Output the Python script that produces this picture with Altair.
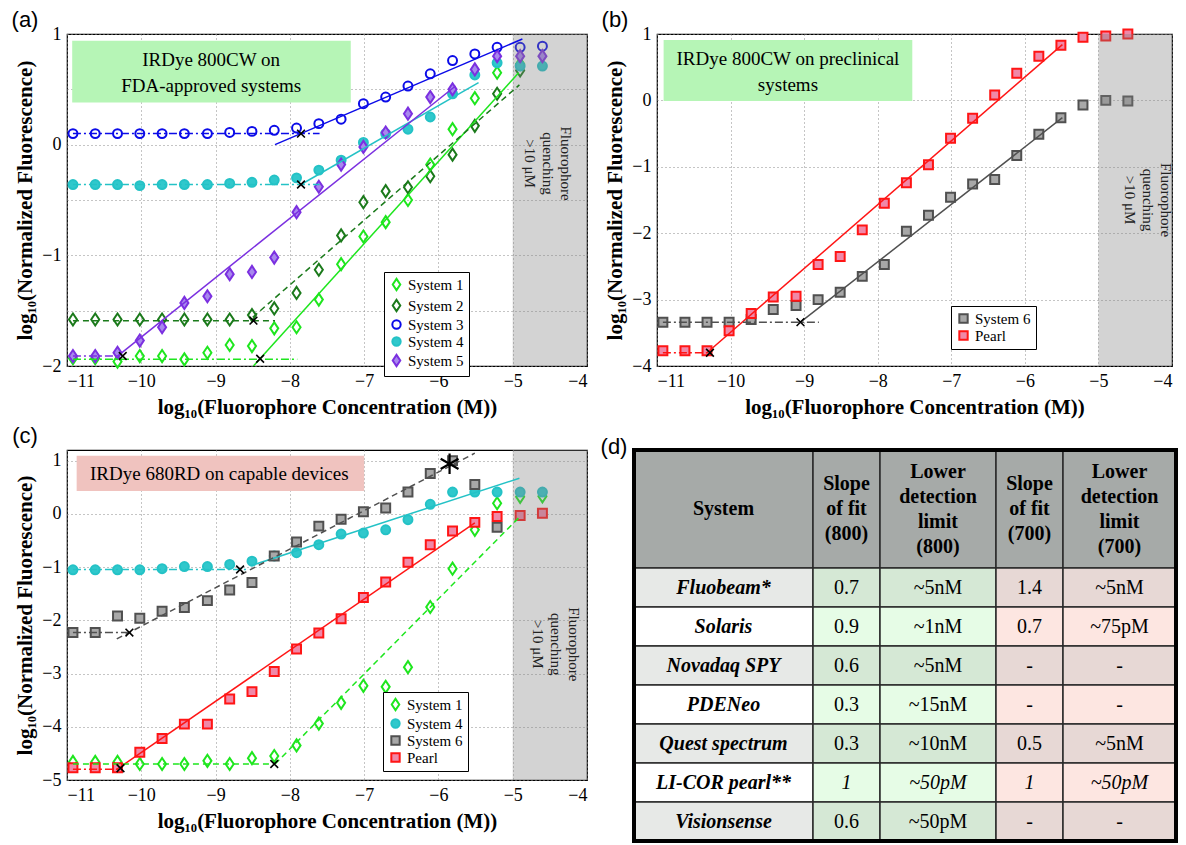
import altair as alt
import pandas as pd

SERIF = "'Liberation Serif', 'Times New Roman', Times, 'Nimbus Roman', 'DejaVu Serif', serif"
SANS = "'Liberation Sans', Arial, Helvetica, sans-serif"

# log10 concentrations of the 2-fold dilution series (shared by all panels)
conc = [-10.92, -10.62, -10.32, -10.02, -9.72, -9.42, -9.11, -8.81, -8.51, -8.21,
        -7.91, -7.61, -7.31, -7.01, -6.71, -6.41, -6.11, -5.81, -5.51, -5.21, -4.90, -4.60]

# ---------------- panel (a): IRDye 800CW on FDA-approved systems
a_order = ["System 1", "System 2", "System 3", "System 4", "System 5"]
a_sys1 = [-1.93, -1.93, -1.96, -1.91, -1.91, -1.94, -1.88, -1.81, -1.82, -1.66, -1.65,
          -1.40, -1.08, -0.83, -0.70, -0.50, -0.18, 0.14, 0.42, 0.65, 0.73, None]
a_sys2 = [-1.58, -1.58, -1.58, -1.58, -1.58, -1.58, -1.58, -1.58, -1.54, -1.48, -1.34,
          -1.13, -0.82, -0.52, -0.42, -0.385, -0.285, -0.09, 0.17, 0.46, 0.67, None]
a_sys3 = [0.10, 0.10, 0.10, 0.10, 0.10, 0.10, 0.10, 0.11, 0.12, 0.13, 0.15,
          0.19, 0.23, 0.37, 0.43, 0.53, 0.64, 0.76, 0.82, 0.88, 0.88, 0.89]
a_sys4 = [-0.36, -0.36, -0.36, -0.37, -0.36, -0.36, -0.36, -0.35, -0.34, -0.32, -0.30,
          -0.23, -0.14, 0.02, 0.10, 0.14, 0.25, 0.46, 0.63, 0.74, 0.71, 0.71]
a_sys5 = [-1.91, -1.91, -1.88, -1.77, -1.65, -1.43, -1.37, -1.17, -1.15, -1.02, -0.61,
          -0.38, -0.18, -0.02, 0.11, 0.28, 0.43, 0.50, 0.68, 0.80, 0.80, 0.80]
a_fits = [
    ("System 3", -10.92, 0.10, -7.60, 0.10, "dashdot"),
    ("System 3", -8.20, 0.00, -4.87, 0.955, "solid"),
    ("System 4", -10.92, -0.36, -7.60, -0.36, "dashdot"),
    ("System 4", -7.85, -0.36, -5.46, 0.56, "solid"),
    ("System 5", -10.92, -1.91, -10.25, -1.91, "dashdot"),
    ("System 5", -10.32, -1.91, -5.77, 0.53, "solid"),
    ("System 2", -10.92, -1.59, -8.20, -1.59, "dashed"),
    ("System 2", -8.50, -1.56, -4.91, 0.54, "dashed"),
    ("System 1", -10.92, -1.94, -7.90, -1.94, "dashdot"),
    ("System 1", -8.49, -2.00, -4.92, 0.65, "solid"),
]
a_knee_x = [-7.85, -7.85, -10.25, -8.49, -8.40]
a_knee_y = [0.10, -0.36, -1.91, -1.59, -1.935]

# ---------------- panel (b): IRDye 800CW on preclinical systems
b_order = ["System 6", "Pearl"]
b_sys6 = [-3.34, -3.34, -3.34, -3.34, -3.30, -3.15, -3.09, -3.00, -2.89, -2.65, -2.47,
          -1.97, -1.73, -1.46, -1.26, -1.19, -0.83, -0.51, -0.26, -0.07, 0.00, -0.01]
b_pearl = [-3.77, -3.77, -3.77, -3.47, -3.21, -2.96, -2.95, -2.47, -2.35, -1.95, -1.55,
           -1.24, -0.97, -0.57, -0.27, 0.08, 0.41, 0.665, 0.83, 0.95, 0.97, 1.00]
b_fits = [
    ("Pearl", -10.92, -3.80, -10.28, -3.80, "dashdot"),
    ("Pearl", -10.32, -3.80, -5.49, 0.84, "solid"),
    ("System 6", -10.92, -3.34, -8.80, -3.34, "dashdot"),
    ("System 6", -9.05, -3.34, -5.49, -0.26, "solid"),
]
b_knee_x = [-10.28, -9.05]
b_knee_y = [-3.80, -3.34]

# ---------------- panel (c): IRDye 680RD on capable devices
c_order = ["System 1", "System 4", "System 6", "Pearl"]
c_sys1 = [-4.66, -4.66, -4.66, -4.70, -4.70, -4.70, -4.64, -4.70, -4.59, -4.55, -4.35,
          -3.94, -3.55, -3.23, -3.25, -2.88, -1.75, -1.03, -0.30, 0.20, 0.32, 0.33]
c_sys4 = [-1.05, -1.05, -1.05, -1.05, -1.03, -0.99, -0.99, -0.95, -0.89, -0.79, -0.73,
          -0.58, -0.38, -0.36, -0.30, -0.11, 0.18, 0.41, 0.41, 0.41, 0.41, 0.41]
c_sys6 = [-2.23, -2.23, -1.92, -1.96, -1.83, -1.76, -1.63, -1.43, -1.29, -0.79, -0.53,
          -0.23, -0.10, 0.04, 0.11, 0.41, 0.76, 1.00, 0.55, -0.25, None, None]
c_pearl = [-4.77, -4.77, -4.77, -4.48, -4.22, -3.95, -3.95, -3.48, -3.34, -2.96, -2.54,
           -2.24, -1.97, -1.57, -1.28, -0.91, -0.58, -0.32, -0.16, -0.05, -0.03, 0.01]
c_fits = [
    ("System 4", -10.92, -1.045, -8.58, -1.045, "dashdot"),
    ("System 4", -8.52, -0.97, -4.91, 0.67, "solid"),
    ("System 6", -10.92, -2.23, -10.16, -2.23, "dashdot"),
    ("System 6", -10.33, -2.35, -5.51, 1.14, "dashed"),
    ("Pearl", -10.92, -4.80, -10.28, -4.80, "dashdot"),
    ("Pearl", -10.33, -4.80, -5.51, -0.17, "solid"),
    ("System 1", -10.92, -4.70, -8.20, -4.70, "dashed"),
    ("System 1", -8.20, -4.70, -4.91, -0.06, "dashed"),
]
c_knee_x = [-8.67, -10.16, -10.28, -8.21]
c_knee_y = [-1.045, -2.23, -4.78, -4.70]
c_star_x = [-5.85]
c_star_y = [0.94]

# ---------------- panel (d): table
tbl_head = ["System", "Slope\nof fit\n(800)", "Lower\ndetection\nlimit\n(800)",
            "Slope\nof fit\n(700)", "Lower\ndetection\nlimit\n(700)"]
tbl_system = ["Fluobeam*", "Solaris", "Novadaq SPY", "PDENeo", "Quest spectrum",
              "LI-COR pearl**", "Visionsense"]
tbl_slope800 = ["0.7", "0.9", "0.6", "0.3", "0.3", "1", "0.6"]
tbl_ldl800 = ["~5nM", "~1nM", "~5nM", "~15nM", "~10nM", "~50pM", "~50pM"]
tbl_slope700 = ["1.4", "0.7", "-", "-", "0.5", "1", "-"]
tbl_ldl700 = ["~5nM", "~75pM", "-", "-", "~5nM", "~50pM", "-"]
tbl_italic_row = "LI-COR pearl**"

# ---------------- styles
COLOR = {"System 1": "#1ee61e", "System 2": "#1b7a1b", "System 3": "#0b0be8",
         "System 4": "#24c2c6", "System 5": "#7b30e0", "System 6": "#505050", "Pearl": "#ff1515"}
FILL = {"System 1": "transparent", "System 2": "transparent", "System 3": "transparent",
        "System 4": "#30c8cc", "System 5": "#a888ee", "System 6": "#a8a8a8", "Pearl": "#f088a8"}
DIAMOND = "M0,-1.35L0.9,0L0,1.35L-0.9,0Z"
SHAPE = {"System 1": DIAMOND, "System 2": DIAMOND, "System 3": "circle", "System 4": "circle",
         "System 5": DIAMOND, "System 6": "square", "Pearl": "square"}
XMARK = "M-1,-1L1,1M-1,1L1,-1"
STAR = "M0,-1L0,1M-0.87,-0.5L0.87,0.5M-0.87,0.5L0.87,-0.5"
DASH = {"solid": None, "dashed": [6, 4], "dashdot": [8, 3, 2, 3]}
BOX_LH = 26
BAND_LH = 18


def panel(tag, order, series, fits, knee_x, knee_y, ydom, ygrid, W, H,
          box, boxfill, boxtext, boxxy, bandxy, legxy, star=None):
    rows = []
    for name, vals in zip(order, series):
        for x, y in zip(conc, vals):
            if y is not None:
                rows.append({"x": x, "y": y, "s": name})
    pts = pd.DataFrame(rows)
    fdf = pd.DataFrame(fits, columns=["s", "x", "y", "x2", "y2", "style"])
    fdf["c"] = fdf["s"].map(COLOR)
    kdf = pd.DataFrame({"x": knee_x, "y": knee_y})

    xsc = alt.Scale(domain=[-11, -4], nice=False, zero=False)
    ysc = alt.Scale(domain=ydom, nice=False, zero=False)
    xax = alt.Axis(values=list(range(-11, -3)), format=".0f", labelPadding=6,
                   title="log₁₀(Fluorophore Concentration (M))")
    yax = alt.Axis(values=ygrid, format=".0f",
                   labelExpr="datum.value == floor(datum.value) ? datum.label : ''",
                   title="log₁₀(Normalized Fluorescence)")

    def X(f):
        return alt.X(f, type="quantitative", scale=xsc, axis=xax)

    def Y(f):
        return alt.Y(f, type="quantitative", scale=ysc, axis=yax)

    layers = []
    bdf = pd.DataFrame([{"x": box[0], "x2": box[1], "y": box[2], "y2": box[3]}])
    layers.append(alt.Chart(bdf).mark_rect(color=boxfill).encode(
        x=X("x"), x2="x2", y=Y("y"), y2="y2"))
    nlines = boxtext.count("\n") + 1
    tdf = pd.DataFrame([{"x": boxxy[0], "y": boxxy[1], "t": boxtext}])
    layers.append(alt.Chart(tdf).mark_text(font=SERIF, fontSize=19, lineBreak="\n",
                                           lineHeight=BOX_LH, color="black",
                                           dy=-(nlines - 1) * BOX_LH / 2).encode(
        x=X("x"), y=Y("y"), text="t:N"))

    leg = alt.Legend(title=None, orient="none", legendX=legxy[0], legendY=legxy[1],
                     strokeColor="black", fillColor="white", padding=5,
                     labelFont=SERIF, labelFontSize=15, labelColor="black",
                     symbolSize=70, symbolStrokeWidth=2, rowPadding=0, labelOffset=4)
    layers.append(alt.Chart(pts).mark_point(size=80, strokeWidth=2, opacity=1).encode(
        x=X("x"), y=Y("y"),
        shape=alt.Shape("s:N", scale=alt.Scale(domain=order, range=[SHAPE[s] for s in order]), legend=leg),
        stroke=alt.Stroke("s:N", scale=alt.Scale(domain=order, range=[COLOR[s] for s in order]), legend=leg),
        fill=alt.Fill("s:N", scale=alt.Scale(domain=order, range=[FILL[s] for s in order]), legend=leg),
    ))

    band = pd.DataFrame([{"x": -5, "x2": -4, "y": ydom[0], "y2": ydom[1]}])
    layers.append(alt.Chart(band).mark_rect(color="#808080", opacity=0.35).encode(
        x=X("x"), x2="x2", y=Y("y"), y2="y2"))

    for style, dash in DASH.items():
        sub = fdf[fdf["style"] == style]
        if len(sub) == 0:
            continue
        if dash is None:
            mk = alt.Chart(sub).mark_rule(strokeWidth=1.5)
        else:
            mk = alt.Chart(sub).mark_rule(strokeWidth=1.5, strokeDash=dash)
        layers.append(mk.encode(x=X("x"), x2="x2", y=Y("y"), y2="y2",
                                color=alt.Color("c:N", scale=None)))

    layers.append(alt.Chart(kdf).mark_point(shape=XMARK, size=60, color="black",
                                            strokeWidth=1.6, opacity=1, filled=False).encode(
        x=X("x"), y=Y("y")))
    if star is not None:
        sdf = pd.DataFrame({"x": star[0], "y": star[1]})
        layers.append(alt.Chart(sdf).mark_point(shape=STAR, size=420, color="black",
                                                strokeWidth=2.2, opacity=1, filled=False).encode(
            x=X("x"), y=Y("y")))

    # rotated note: with angle 90, dy (rotated frame) moves the 3-line block sideways so the
    # middle line sits on the anchor
    qdf = pd.DataFrame([{"x": bandxy[0], "y": bandxy[1], "t": "Fluorophore\nquenching\n>10 μM"}])
    layers.append(alt.Chart(qdf).mark_text(font=SERIF, fontSize=15, lineBreak="\n", lineHeight=BAND_LH,
                                           angle=90, color="#222", dy=-BAND_LH).encode(
        x=X("x"), y=Y("y"), text="t:N"))

    gdf = pd.DataFrame([{"t": tag}])
    layers.append(alt.Chart(gdf).mark_text(font=SANS, fontSize=22, color="black").encode(
        x=alt.value(-42), y=alt.value(-14), text="t:N"))

    return alt.layer(*layers).properties(width=W, height=H)


pa = panel("(a)", a_order, [a_sys1, a_sys2, a_sys3, a_sys4, a_sys5], a_fits, a_knee_x, a_knee_y,
           [-2, 1], [-2, -1.5, -1, -0.5, 0, 0.5, 1], 520, 332,
           (-10.93, -7.18, 0.38, 0.94), "#b6f5b6", "IRDye 800CW on\nFDA-approved systems",
           (-9.06, 0.65), (-4.52, -0.17), (317, 238))
pb = panel("(b)", b_order, [b_sys6, b_pearl], b_fits, b_knee_x, b_knee_y,
           [-4, 1], [-4, -3, -2, -1, 0, 1], 515, 332,
           (-10.91, -7.53, -0.01, 0.91), "#b6f5b6", "IRDye 800CW on preclinical\nsystems",
           (-9.22, 0.425), (-4.33, -1.5), (294, 272))
pc = panel("(c)", c_order, [c_sys1, c_sys4, c_sys6, c_pearl], c_fits, c_knee_x, c_knee_y,
           [-5, 1.2], [-5, -4, -3, -2, -1, 0, 1], 520, 330,
           (-10.87, -7.0, 0.43, 1.09), "#f0c3bf", "IRDye 680RD on capable devices",
           (-8.95, 0.75), (-4.42, -2.45), (316, 242), star=(c_star_x, c_star_y))

# ---------------- table
col_w = [179, 67, 116, 67, 113]
head_h = 118
row_h = 39
TBL_LH = 25
edges = [0]
for w in col_w:
    edges.append(edges[-1] + w)
tw = edges[-1]
th = head_h + row_h * len(tbl_system)

HEAD_FILL = "#a6aaa8"
ODD = ["#e7e9e7", "#d5e8d5", "#d5e8d5", "#e7d8d5", "#e7d8d5"]
EVEN = ["#ffffff", "#e6fce6", "#e6fce6", "#fde6e1", "#fde6e1"]

cells = []
for c in range(5):
    cells.append({"x0": edges[c], "x1": edges[c + 1], "y0": 0, "y1": head_h,
                  "fill": HEAD_FILL, "t": tbl_head[c], "kind": "head"})
for r, name in enumerate(tbl_system):
    vals = [name, tbl_slope800[r], tbl_ldl800[r], tbl_slope700[r], tbl_ldl700[r]]
    y0 = head_h + r * row_h
    for c in range(5):
        if c == 0:
            kind = "name"
        elif name == tbl_italic_row:
            kind = "ital"
        else:
            kind = "val"
        cells.append({"x0": edges[c], "x1": edges[c + 1], "y0": y0, "y1": y0 + row_h,
                      "fill": (ODD if r % 2 == 0 else EVEN)[c], "t": vals[c], "kind": kind})
cdf = pd.DataFrame(cells)
cdf["cx"] = (cdf["x0"] + cdf["x1"]) / 2
# first-line anchor so that multi-line blocks are centred in their cell (table units are pixels)
cdf["cy"] = (cdf["y0"] + cdf["y1"]) / 2 - (cdf["t"].str.count("\n")) * TBL_LH / 2

tx = alt.Scale(domain=[0, tw], nice=False, zero=False)
ty = alt.Scale(domain=[0, th], nice=False, zero=False, reverse=True)
base = alt.Chart(cdf)
t_rect = base.mark_rect(stroke="#2a2a2a", strokeWidth=1.5).encode(
    x=alt.X("x0:Q", scale=tx, axis=None), x2="x1",
    y=alt.Y("y0:Q", scale=ty, axis=None), y2="y1",
    fill=alt.Fill("fill:N", scale=None))


def ttext(kind, **kw):
    return base.transform_filter(alt.datum.kind == kind).mark_text(
        font=SERIF, fontSize=20, lineBreak="\n", lineHeight=TBL_LH, color="black", **kw).encode(
        x=alt.X("cx:Q", scale=tx, axis=None), y=alt.Y("cy:Q", scale=ty, axis=None), text="t:N")


border = alt.Chart(pd.DataFrame([{"x0": 0, "x1": tw, "y0": 0, "y1": th}])).mark_rect(
    fillOpacity=0, stroke="black", strokeWidth=4).encode(
    x=alt.X("x0:Q", scale=tx, axis=None), x2="x1",
    y=alt.Y("y0:Q", scale=ty, axis=None), y2="y1")
dlab = alt.Chart(pd.DataFrame([{"t": "(d)"}])).mark_text(font=SANS, fontSize=22, color="black").encode(
    x=alt.value(-20), y=alt.value(-3), text="t:N")

table = alt.layer(
    t_rect,
    ttext("head", fontWeight="bold"),
    ttext("name", fontWeight="bold", fontStyle="italic"),
    ttext("val"),
    ttext("ital", fontStyle="italic"),
    border, dlab,
).properties(width=tw, height=th, view=alt.ViewBackground(stroke="transparent", strokeWidth=0))

IND = dict(x="independent", y="independent", shape="independent", fill="independent",
           stroke="independent", color="independent")

row1 = alt.hconcat(pa, pb, spacing=12).resolve_scale(**IND).resolve_legend(
    shape="independent", fill="independent", stroke="independent")
row2 = alt.hconcat(pc, table, spacing=12).resolve_scale(**IND).resolve_legend(
    shape="independent", fill="independent", stroke="independent")

chart = alt.vconcat(row1, row2, spacing=6).resolve_scale(**IND).resolve_legend(
    shape="independent", fill="independent", stroke="independent"
).properties(
    padding={"left": 2, "top": 0, "right": 0, "bottom": 0}
).configure_view(
    stroke="black", strokeWidth=1.2
).configure_axis(
    labelFont=SERIF, labelFontSize=18, labelColor="black",
    titleFont=SERIF, titleFontSize=21, titleFontWeight="bold", titleColor="black",
    grid=True, gridColor="#8a8a8a", gridDash=[1, 3], gridWidth=1,
    domain=False, ticks=False, labelPadding=6, titlePadding=6
)

chart.save("out.html", embed_options={"renderer": "svg", "actions": False})
